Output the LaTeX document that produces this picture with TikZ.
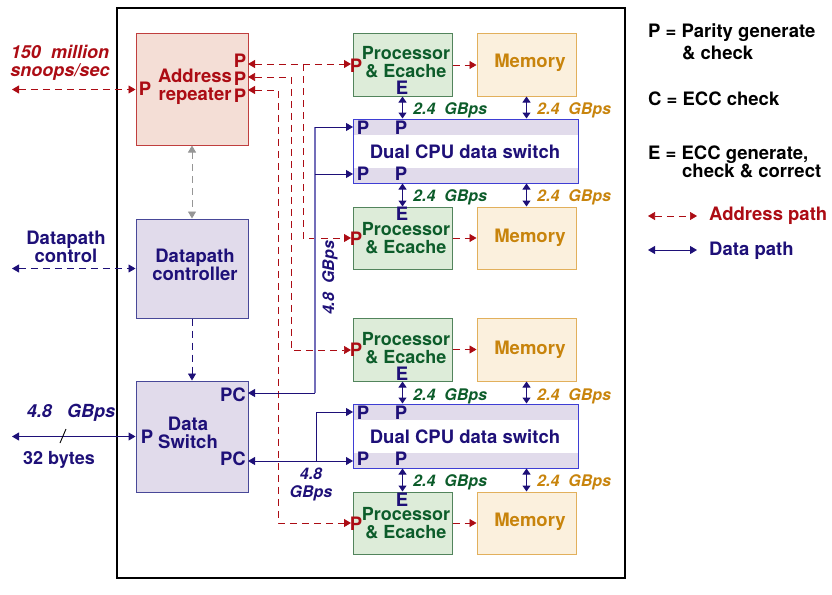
\documentclass[tikz,border=0pt]{standalone}
\usepackage{fontspec}
\setmainfont{TeX Gyre Heros}
\usetikzlibrary{arrows.meta}
\definecolor{addrred}{RGB}{172,12,20}
\definecolor{navy}{RGB}{30,16,120}
\definecolor{busblue}{RGB}{115,110,185}
\definecolor{dgreen}{RGB}{12,92,42}
\definecolor{gold}{RGB}{200,132,12}
\definecolor{pinkfill}{RGB}{244,222,214}
\definecolor{pinkdraw}{RGB}{192,62,62}
\definecolor{lavfill}{RGB}{225,219,235}
\definecolor{lavdraw}{RGB}{72,72,152}
\definecolor{greenfill}{RGB}{221,236,217}
\definecolor{greendraw}{RGB}{82,132,92}
\definecolor{memfill}{RGB}{251,240,221}
\definecolor{memdraw}{RGB}{226,176,92}
\definecolor{swdraw}{RGB}{62,62,212}
\definecolor{grayarrow}{RGB}{150,150,150}
\begin{document}
\begin{tikzpicture}[x=1pt,y=-1pt,
  >={Triangle[length=7pt,width=8pt]},
  box/.style={line width=1pt, inner sep=0},
  arbox/.style={box, draw=pinkdraw, fill=pinkfill, minimum width=112pt},
  dpbox/.style={box, draw=lavdraw, fill=lavfill, minimum width=112pt},
  procbox/.style={box, draw=greendraw, fill=greenfill, minimum width=99pt, minimum height=62pt},
  membox/.style={box, draw=memdraw, fill=memfill, minimum width=99pt, minimum height=62pt},
  swbox/.style={box, draw=swdraw, minimum width=225pt, minimum height=64pt},
  bigt/.style={inner sep=0, align=center, font=\bfseries\fontsize{18.5}{18.5}\selectfont},
  proct/.style={inner sep=0, align=center, font=\bfseries\fontsize{18}{18}\selectfont},
  lgt/.style={inner sep=0, anchor=west, font=\bfseries\fontsize{18.5}{18.5}\selectfont},
  rate/.style={inner sep=0, anchor=west, font=\bfseries\itshape\fontsize{16}{16}\selectfont},
  addr/.style={draw=addrred, line width=0.9pt, dash pattern=on 7pt off 5pt},
  data/.style={draw=navy, line width=1pt},
  ctrl/.style={draw=navy, line width=0.9pt, dash pattern=on 7pt off 5pt},
  graydash/.style={draw=grayarrow, line width=0.9pt, dash pattern=on 7pt off 5pt},
  vshort/.style={draw=navy, line width=1pt, {Triangle[length=6pt,width=8pt]}-{Triangle[length=6pt,width=8pt]}}
]
\useasboundingbox (0,0) rectangle (832,594);

% outer frame
\node[draw, line width=2.5pt, minimum width=508pt, minimum height=570pt, inner sep=0] (frame) at (371,293) {};

% left column boxes
\node[arbox, minimum height=111pt] (ar) at (192,89.5) {};
\node[dpbox, minimum height=99pt] (dc) at (192,268.5) {};
\node[dpbox, minimum height=111pt] (ds) at (192,436.5) {};

% processors and memories
\node[procbox] (p1) at (402.5,65) {};
\node[procbox] (p2) at (402.5,238) {};
\node[procbox, minimum height=63pt] (p3) at (402.5,349.5) {};
\node[procbox] (p4) at (402.5,523) {};
\node[membox] (m1) at (526.5,65) {};
\node[membox] (m2) at (526.5,238) {};
\node[membox, minimum height=63pt] (m3) at (526.5,349.5) {};
\node[membox] (m4) at (526.5,523) {};

% dual CPU data switches
\fill[lavfill] (353,119) rectangle (578,135);
\fill[lavfill] (353,168) rectangle (578,183);
\fill[lavfill] (353,404) rectangle (578,420);
\fill[lavfill] (353,453) rectangle (578,468);
\node[swbox] (sw1) at (465.5,151) {};
\node[swbox] (sw2) at (465.5,436) {};

% texts in boxes
\node[bigt, text=addrred] (art) at (195,87) {Address\\repeater};
\node[bigt, text=navy] (dct) at (195,265) {Datapath\\controller};
\node[bigt, text=navy] (dst) at (188,433) {Data\\Switch};
\foreach \n/\y in {p1/62, p2/238, p3/348, p4/523}{
  \node[proct, text=dgreen] (\n t) at (406,\y) {Processor\\\& Ecache};
}
\foreach \n/\y in {m1/63, m2/238, m3/350, m4/522}{
  \node[bigt, text=gold] (\n t) at (530,\y) {Memory};
}
\node[bigt, text=navy] (sw1t) at (465,152) {Dual CPU data switch};
\node[bigt, text=navy] (sw2t) at (465,437) {Dual CPU data switch};

% P / E / PC labels
\node[bigt, text=addrred] (arPin) at (145,89) {P};
\node[bigt, text=addrred] (arPa) at (240,61) {P};
\node[bigt, text=addrred] (arPb) at (240,79) {P};
\node[bigt, text=addrred] (arPc) at (240,96) {P};
\node[bigt, text=navy] (dsPin) at (147,437) {P};
\node[bigt, text=navy] (dsPCa) at (233,395) {PC};
\node[bigt, text=navy] (dsPCb) at (233,459) {PC};
\foreach \n/\y in {p1/66, p2/239, p3/350, p4/524}{
  \node[bigt, text=addrred] (\n P) at (356,\y) {P};
}
\node[bigt, text=navy] (p1E) at (402,88) {E};
\node[bigt, text=navy] (p2E) at (402,214) {E};
\node[bigt, text=navy] (p3E) at (402,374) {E};
\node[bigt, text=navy] (p4E) at (402,500) {E};
\foreach \s/\ya/\yb in {sw1/128/174, sw2/413/459}{
  \node[bigt, text=navy] (\s Pa) at (363,\ya) {P};
  \node[bigt, text=navy] (\s Pb) at (401,\ya) {P};
  \node[bigt, text=navy] (\s Pc) at (363,\yb) {P};
  \node[bigt, text=navy] (\s Pd) at (401,\yb) {P};
}

% rate labels
\node[rate, text=dgreen] (r1) at (413,110) {2.4\ \ GBps};
\node[rate, text=gold] (r2) at (537,110) {2.4\ \ GBps};
\node[rate, text=dgreen] (r3) at (413,197) {2.4\ \ GBps};
\node[rate, text=gold] (r4) at (537,197) {2.4\ \ GBps};
\node[rate, text=dgreen] (r5) at (413,396) {2.4\ \ GBps};
\node[rate, text=gold] (r6) at (537,396) {2.4\ \ GBps};
\node[rate, text=dgreen] (r7) at (413,482) {2.4\ \ GBps};
\node[rate, text=gold] (r8) at (537,482) {2.4\ \ GBps};
\node[rate, anchor=center, text=navy, rotate=90] (rv) at (330,278) {4.8\ \ GBps};
\node[rate, anchor=center, align=center, text=navy, font=\bfseries\itshape\fontsize{16}{18}\selectfont] (rl) at (311,484) {4.8\\GBps};

% left side labels
\node[bigt, text=addrred, font=\bfseries\itshape\fontsize{18}{18}\selectfont] (snoop) at (60,63) {150\ \ million\\snoops/sec};
\node[bigt, text=navy] (dpc) at (66,247) {Datapath\\control};
\node[rate, anchor=center, text=navy, font=\bfseries\itshape\fontsize{18}{18}\selectfont] (lr) at (71,413) {4.8\ \ \ GBps};
\node[bigt, text=navy, font=\bfseries\fontsize{18}{18}\selectfont] (lb) at (59,460) {32 bytes};

% legend
\node[lgt] (lgP) at (648,33) {P = Parity generate};
\node[lgt] (lgP2) at (682,53) {\& check};
\node[lgt] (lgC) at (648,99) {C = ECC check};
\node[lgt] (lgE) at (648,155) {E = ECC generate,};
\node[lgt] (lgE2) at (682,171) {check \& correct};
\node[lgt, text=addrred] (lgA) at (709,216) {Address path};
\node[lgt, text=navy] (lgD) at (709,251) {Data path};
\coordinate (la1) at (648,216); \coordinate (la2) at (697,216);
\coordinate (ld1) at (648,250); \coordinate (ld2) at (697,250);
\draw[addr,<->, line width=0.7pt] (la1) -- (la2);
\draw[data,<->] (ld1) -- (ld2);

% external connections
\coordinate (snoopEnd) at (12,89.5);
\coordinate (dcEnd) at (12,268.5);
\coordinate (dsEnd) at (12,436.5);
\draw[addr,<->] (snoopEnd) -- (ar.west);
\draw[ctrl,<->] (dcEnd) -- (dc.west);
\draw[data,<->] (dsEnd) -- (ds.west);
\draw[line width=0.9pt] (60,443) -- (66,429);

% control arrows between left boxes
\draw[graydash,<->] (ar.south) -- (dc.north);
\draw[ctrl,->] (dc.south) -- (ds.north);

% address paths
\coordinate (arP1) at (248,64);
\coordinate (arP2) at (248,77);
\coordinate (arP3) at (248,90);
\coordinate (p1In) at (351,64);
\coordinate (p2In) at (351,238);
\coordinate (p3In) at (351,350);
\coordinate (p4In) at (351,523);
\coordinate (vA) at (303,64);
\coordinate (vB) at (291,350);
\coordinate (vC) at (278,523);
\draw[addr,<->] (arP1) -- (p1In);
\draw[addr,->] (vA) |- (p2In);
\draw[addr,<->, line width=0.7pt] (arP2) -| (vB) -- (p3In);
\draw[addr,<->] (arP3) -| (vC) -- (p4In);
\foreach \i in {1,2,3,4}{
  \draw[addr,->, line width=0.7pt] (p\i.east) -- (m\i.west);
}

% data paths
\coordinate (busT) at (315,127);
\coordinate (busM) at (315,174);
\coordinate (busB) at (315,393);
\coordinate (sw1In1) at (353,127);
\coordinate (sw1In2) at (353,174);
\coordinate (dsPC1) at (248,393);
\coordinate (dsPC2) at (248,461);
\coordinate (sw2In1) at (353,412);
\coordinate (sw2In2) at (353,461);
\coordinate (bus2B) at (316,461);
\coordinate (bus2T) at (316,412);
\draw[draw=busblue, line width=1.2pt] (busT) -- (busB);
\draw[data,->] (busT) -- (sw1In1);
\draw[data,->] (busM) -- (sw1In2);
\draw[data,->] (busB) -- (dsPC1);
\draw[data,<->] (dsPC2) -- (sw2In2);
\draw[data,->] (bus2B) -- (bus2T) -- (sw2In1);

% short vertical data arrows
\draw[vshort] (p1.south) -- (p1.south |- sw1.north);
\draw[vshort] (m1.south) -- (m1.south |- sw1.north);
\draw[vshort] (p2.north |- sw1.south) -- (p2.north);
\draw[vshort] (m2.north |- sw1.south) -- (m2.north);
\draw[vshort] (p3.south) -- (p3.south |- sw2.north);
\draw[vshort] (m3.south) -- (m3.south |- sw2.north);
\draw[vshort] (p4.north |- sw2.south) -- (p4.north);
\draw[vshort] (m4.north |- sw2.south) -- (m4.north);
\end{tikzpicture}
\end{document}
